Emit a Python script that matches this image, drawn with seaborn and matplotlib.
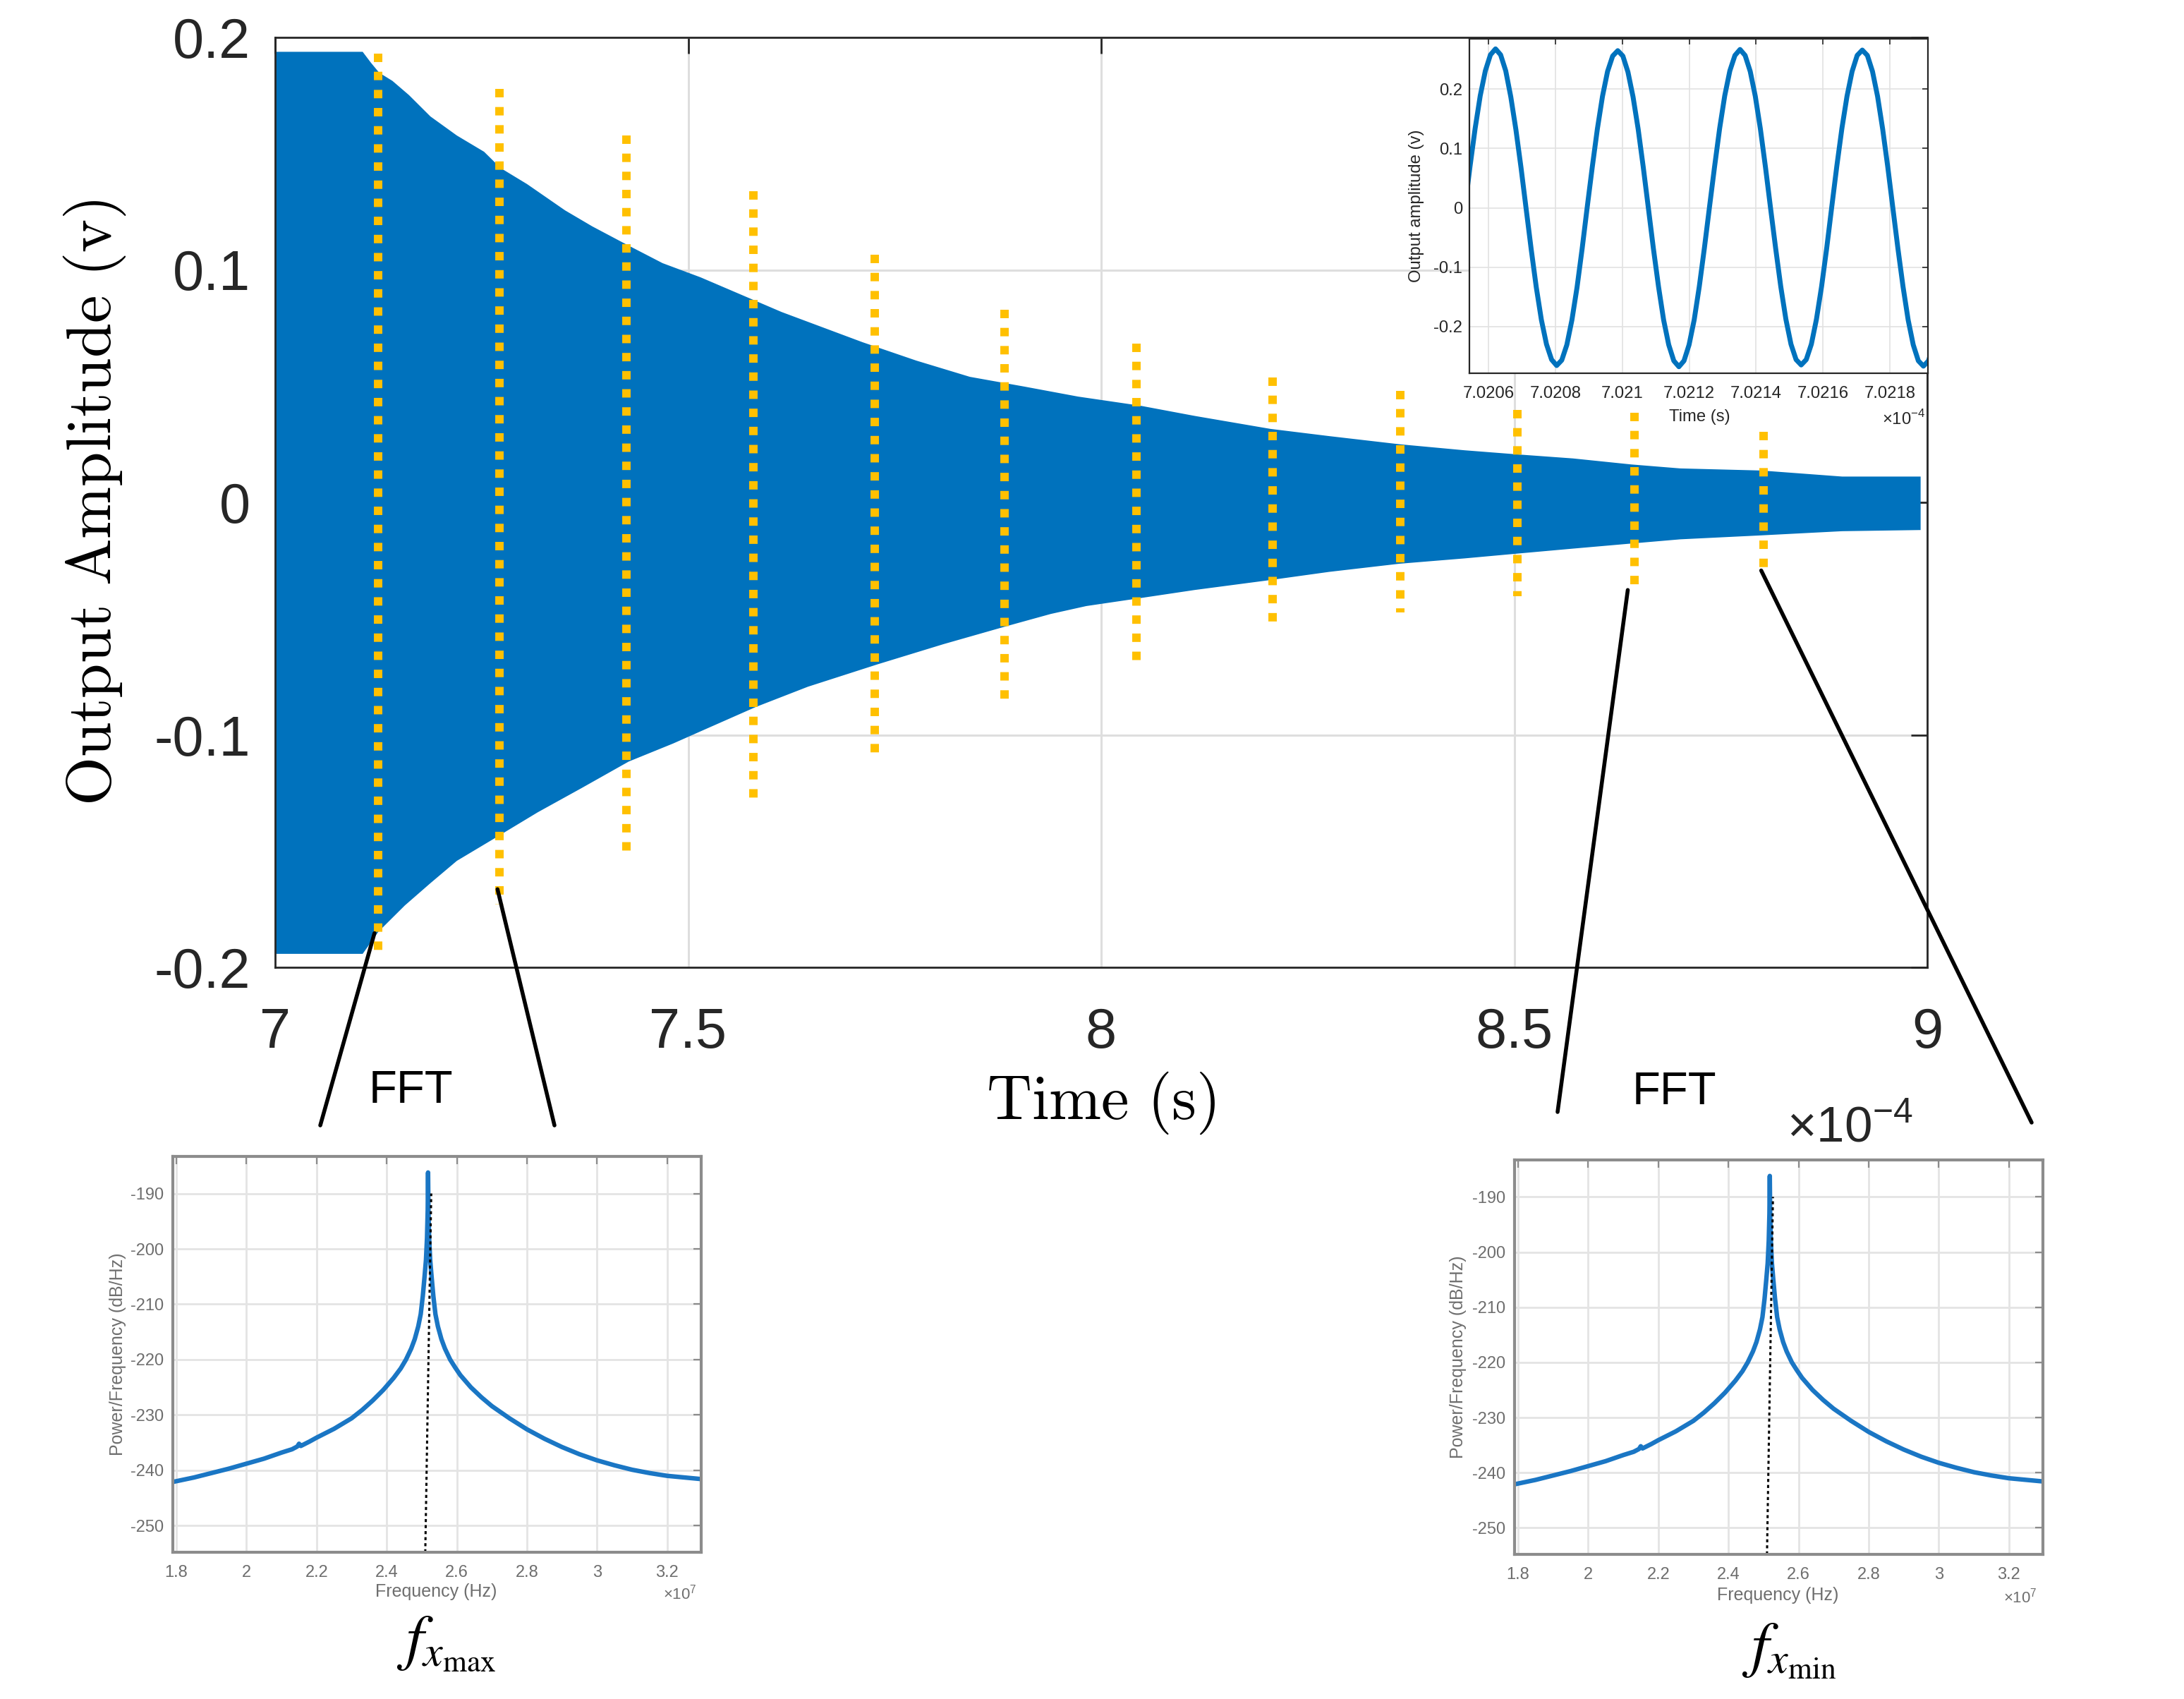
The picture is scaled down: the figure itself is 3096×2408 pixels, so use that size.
import numpy as np
import matplotlib
matplotlib.use("Agg")
import matplotlib.pyplot as plt
from matplotlib.patches import ConnectionPatch
import seaborn as sns

# ---------------- data ----------------
# main decay record: upper / lower envelope of the dense oscillation
env_t = [7.000, 7.106, 7.116, 7.126, 7.142, 7.162, 7.188, 7.220, 7.253, 7.273, 7.305, 7.351,
         7.384, 7.426, 7.469, 7.515, 7.567, 7.613, 7.665, 7.711, 7.776, 7.841, 7.907, 7.972,
         8.047, 8.113, 8.205, 8.276, 8.361, 8.440, 8.505, 8.571, 8.642, 8.701, 8.799, 8.897, 8.992]
env_upper = [0.1938, 0.1938, 0.1891, 0.1848, 0.1813, 0.1752, 0.1660, 0.1578, 0.1508, 0.1438,
             0.1369, 0.1256, 0.1187, 0.1108, 0.1029, 0.0968, 0.0889, 0.0819, 0.0750, 0.0689,
             0.0610, 0.0540, 0.0498, 0.0455, 0.0416, 0.0372, 0.0316, 0.0285, 0.0250, 0.0224,
             0.0206, 0.0189, 0.0163, 0.0146, 0.0137, 0.0111, 0.0111]
low_t = [7.000, 7.106, 7.125, 7.157, 7.188, 7.220, 7.269, 7.318, 7.371, 7.428, 7.482, 7.515,
         7.582, 7.645, 7.729, 7.809, 7.886, 7.939, 7.982, 8.047, 8.113, 8.205, 8.276, 8.361,
         8.440, 8.505, 8.571, 8.642, 8.701, 8.799, 8.897, 8.992]
env_lower = [-0.1942, -0.1942, -0.1847, -0.1734, -0.1638, -0.1542, -0.1438, -0.1333, -0.1229,
             -0.1115, -0.1037, -0.0985, -0.0880, -0.0793, -0.0697, -0.0610, -0.0532, -0.0480,
             -0.0446, -0.0412, -0.0377, -0.0334, -0.0299, -0.0264, -0.0241, -0.0220, -0.0199,
             -0.0177, -0.0159, -0.0142, -0.0124, -0.0119]

# yellow dotted sampling windows
win_t = [7.1248, 7.2718, 7.4254, 7.579, 7.726, 7.883, 8.0429, 8.2075, 8.3624, 8.5036, 8.6454, 8.8022]
win_top = [0.1931, 0.1778, 0.1578, 0.1339, 0.1064, 0.0829, 0.0682, 0.0537, 0.0480, 0.0398, 0.0386, 0.0302]
win_bottom = [-0.1952, -0.1730, -0.1507, -0.1304, -0.1103, -0.0866, -0.0691, -0.0520, -0.0473,
              -0.0403, -0.0360, -0.0281]

# zoom connectors (start on the main plot, in data units)
conn_t = [7.1203, 7.2692, 8.6375, 8.7990]
conn_v = [-0.1853, -0.1664, -0.0377, -0.0293]

main_xticks = [7, 7.5, 8, 8.5, 9]
main_xticklabels = ["7", "7.5", "8", "8.5", "9"]
main_yticks = [-0.2, -0.1, 0, 0.1, 0.2]
main_yticklabels = ["-0.2", "-0.1", "0", "0.1", "0.2"]

# inset: a few cycles of the signal (time in units of 1e-4 s)
inset_t = [7.0205287, 7.0205439, 7.0205592, 7.0205744, 7.0205897, 7.0206049, 7.0206202, 7.0206354,
           7.0206507, 7.0206659, 7.0206811, 7.0206964, 7.0207116, 7.0207269, 7.0207421, 7.0207574,
           7.0207726, 7.0207879, 7.0208031, 7.0208183, 7.0208336, 7.0208488, 7.0208641, 7.0208793,
           7.0208945, 7.0209097, 7.0209249, 7.0209402, 7.0209554, 7.0209707, 7.0209859, 7.0210012,
           7.0210164, 7.0210317, 7.0210469, 7.0210621, 7.0210774, 7.0210926, 7.0211079, 7.0211231,
           7.0211384, 7.0211536, 7.0211689, 7.0211841, 7.0211993, 7.0212146, 7.0212298, 7.0212451,
           7.0212603, 7.0212755, 7.0212908, 7.0213060, 7.0213213, 7.0213365, 7.0213518, 7.0213670,
           7.0213823, 7.0213975, 7.0214127, 7.0214280, 7.0214432, 7.0214585, 7.0214737, 7.0214890,
           7.0215042, 7.0215195, 7.0215347, 7.0215499, 7.0215652, 7.0215804, 7.0215957, 7.0216109,
           7.0216261, 7.0216413, 7.0216566, 7.0216718, 7.0216871, 7.0217023, 7.0217176, 7.0217328,
           7.0217481, 7.0217633, 7.0217785, 7.0217938, 7.0218090, 7.0218243, 7.0218395, 7.0218548,
           7.0218700, 7.0218853, 7.0219005, 7.0219157, 7.0219310]
inset_v = [0.001, 0.070, 0.134, 0.189, 0.231, 0.258, 0.268, 0.258, 0.231, 0.187, 0.132, 0.068,
           -0.001, -0.070, -0.134, -0.189, -0.230, -0.256, -0.266, -0.257, -0.231, -0.189, -0.134, -0.069,
           0.001, 0.069, 0.133, 0.188, 0.230, 0.256, 0.265, 0.256, 0.229, 0.187, 0.133, 0.069,
           0.000, -0.069, -0.133, -0.189, -0.231, -0.258, -0.268, -0.258, -0.231, -0.189, -0.133, -0.068,
           0.001, 0.069, 0.134, 0.189, 0.231, 0.257, 0.267, 0.257, 0.230, 0.188, 0.133, 0.068,
           -0.001, -0.069, -0.133, -0.188, -0.230, -0.256, -0.265, -0.256, -0.230, -0.188, -0.133, -0.069,
           0.001, 0.070, 0.134, 0.188, 0.230, 0.257, 0.266, 0.257, 0.230, 0.188, 0.133, 0.069,
           0.000, -0.069, -0.133, -0.189, -0.231, -0.258, -0.267, -0.258, -0.231]
inset_xticks = [7.0206, 7.0208, 7.0210, 7.0212, 7.0214, 7.0216, 7.0218]
inset_xticklabels = ["7.0206", "7.0208", "7.021", "7.0212", "7.0214", "7.0216", "7.0218"]
inset_yticks = [-0.2, -0.1, 0, 0.1, 0.2]
inset_yticklabels = ["-0.2", "-0.1", "0", "0.1", "0.2"]

# FFT spectra (frequency in units of 1e7 Hz)
fft_freq = [1.79, 1.85, 1.90, 1.95, 2.00, 2.05, 2.10, 2.13, 2.145, 2.15, 2.155, 2.18, 2.20, 2.25,
            2.30, 2.33, 2.36, 2.39, 2.42, 2.44, 2.455, 2.47, 2.48, 2.49, 2.497, 2.503, 2.508,
            2.512, 2.515, 2.517, 2.518, 2.519, 2.521, 2.524, 2.528, 2.533, 2.539, 2.546, 2.556,
            2.566, 2.581, 2.595, 2.61, 2.64, 2.67, 2.70, 2.75, 2.80, 2.85, 2.90, 2.95, 3.00,
            3.05, 3.10, 3.15, 3.20, 3.25, 3.30]
fft_db = [-242.1, -241.3, -240.5, -239.7, -238.8, -237.9, -236.8, -236.2, -235.7, -235.2, -235.6,
          -234.8, -234.1, -232.5, -230.6, -229.1, -227.4, -225.5, -223.3, -221.6, -220.0, -218.0,
          -216.3, -214.0, -211.8, -208.5, -205.0, -202.0, -198.0, -193.0, -186.2, -193.0, -198.0,
          -202.0, -205.0, -208.5, -211.8, -214.0, -216.3, -218.0, -220.0, -221.4, -222.8, -225.0,
          -226.8, -228.4, -230.6, -232.6, -234.3, -235.8, -237.1, -238.2, -239.1, -239.9, -240.5,
          -241.0, -241.3, -241.6]
fft_mark_f = [2.510, 2.527]
fft_mark_db = [-254.8, -190.0]
fft_xticks = [1.8, 2.0, 2.2, 2.4, 2.6, 2.8, 3.0, 3.2]
fft_xticklabels = ["1.8", "2", "2.2", "2.4", "2.6", "2.8", "3", "3.2"]
fft_yticks = [-250, -240, -230, -220, -210, -200, -190]
fft_yticklabels = ["-250", "-240", "-230", "-220", "-210", "-200", "-190"]
fft_names = [r"$f_{x_{\mathrm{max}}}$", r"$f_{x_{\mathrm{min}}}$"]

# ---------------- styling ----------------
sns.set_theme(style="white")
plt.rcParams["font.family"] = ["Liberation Sans", "DejaVu Sans"]
plt.rcParams["axes.unicode_minus"] = False

BLUE = "#0072BD"
YELLOW = "#FFC000"
DARK = "#262626"

W, H = 3096, 2408
fig = plt.figure(figsize=(W / 200, H / 200), dpi=200)
fig.patch.set_facecolor("white")


def rect(l, t, r, b):
    return [l / W, 1 - b / H, (r - l) / W, (b - t) / H]


def fxy(x, y):
    return x / W, 1 - y / H


# ---------------- main axes ----------------
ax = fig.add_axes(rect(390, 53, 2732, 1371))
poly_t = np.concatenate([env_t, low_t[::-1]])
poly_v = np.concatenate([env_upper, env_lower[::-1]])
ax.fill(poly_t, poly_v, color=BLUE, lw=0, zorder=2)
for t, b, tp in zip(win_t, win_bottom, win_top):
    ax.plot([t, t], [tp, b], color=YELLOW, lw=4.3, ls=(0, (1, 1.15)),
            dash_capstyle="butt", zorder=3)

ax.set_xlim(7, 9)
ax.set_ylim(-0.2, 0.2)
ax.set_xticks(main_xticks, main_xticklabels)
ax.set_yticks(main_yticks, main_yticklabels)
ax.tick_params(direction="in", length=8.3, width=1.0, top=True, right=True,
               labelsize=28.5, colors=DARK)
ax.tick_params(axis="x", pad=20)
ax.tick_params(axis="y", pad=12.6)
ax.grid(True, color="#dedede", lw=1.1)
ax.set_axisbelow(True)
for s in ax.spines.values():
    s.set_visible(True)
    s.set_color(DARK)
    s.set_linewidth(1.0)
ax.set_xlabel(r"$\mathrm{Time\ (s)}$", fontsize=32, math_fontfamily="cm", color="black")
ax.xaxis.label.set_va("center")
ax.xaxis.set_label_coords(0.5, (1371 - 1563) / 1318)
ax.set_ylabel(r"$\mathrm{Output\ Amplitude\ (v)}$", fontsize=32, math_fontfamily="cm",
              color="black")
ax.yaxis.label.set_va("center")
ax.yaxis.set_label_coords((134 - 390) / 2342, 0.5)

# ---------------- inset ----------------
axin = fig.add_axes(rect(2083, 55, 2733, 529))
axin.set_facecolor("white")
sns.lineplot(x=inset_t, y=inset_v, ax=axin, color=BLUE, lw=2.5)
axin.set_xlim(7.020542, 7.021914)
axin.set_ylim(-0.279, 0.285)
axin.set_xticks(inset_xticks, inset_xticklabels)
axin.set_yticks(inset_yticks, inset_yticklabels)
axin.tick_params(direction="in", length=3, width=0.6, top=True, right=True,
                 labelsize=8.6, colors=DARK)
axin.tick_params(axis="x", pad=6.3)
axin.tick_params(axis="y", pad=3.6)
axin.grid(True, color="#e2e2e2", lw=0.6)
for s in axin.spines.values():
    s.set_visible(True)
    s.set_color(DARK)
    s.set_linewidth(0.8)
axin.set_xlabel("Time (s)", fontsize=8.6, color=DARK)
axin.xaxis.label.set_va("center")
axin.xaxis.set_label_coords((2409 - 2083) / 650, (529 - 591) / 474)
axin.set_ylabel("Output amplitude (v)", fontsize=8.6, color=DARK)
axin.yaxis.label.set_va("center")
axin.yaxis.set_label_coords((2008 - 2083) / 650, 0.5)
fig.text(*fxy(2699, 594), "×10$^{\\mathregular{-4}}$", fontsize=8.6, color=DARK,
         ha="center", va="center")

# ---------------- FFT panels ----------------
fft_rects = [(245, 1639, 994, 2200), (2147, 1644, 2896, 2203)]
fft_xlab = [(618, 2256), (2520, 2261)]
fft_ylab_x = [167, 2067]
fft_mult = [(964, 2259), (2864, 2264)]
fft_title = [(582, 1546), (2373, 1548)]
fft_name_pos = [(633, 2330), (2536, 2340)]
GRAY = "#8c8c8c"
LGRAY = "#6e6e6e"
for i, (l, t, r, b) in enumerate(fft_rects):
    axf = fig.add_axes(rect(l, t, r, b))
    sns.lineplot(x=fft_freq, y=fft_db, ax=axf, color="#1a76c4", lw=2.3)
    axf.plot(fft_mark_f, fft_mark_db, color="black", lw=1.1, ls=(0, (1.4, 1.4)))
    axf.set_xlim(1.79, 3.297)
    axf.set_ylim(-254.8, -183.3)
    axf.set_xticks(fft_xticks, fft_xticklabels)
    axf.set_yticks(fft_yticks, fft_yticklabels)
    axf.tick_params(direction="in", length=4, width=0.8, top=True, right=True,
                    labelsize=8.5, color=GRAY, labelcolor=LGRAY)
    axf.tick_params(axis="x", pad=6.5)
    axf.tick_params(axis="y", pad=4.7)
    axf.grid(True, color="#e4e4e4", lw=1.0)
    for s in axf.spines.values():
        s.set_visible(True)
        s.set_color(GRAY)
        s.set_linewidth(1.5)
    w, h = r - l, b - t
    axf.set_xlabel("Frequency (Hz)", fontsize=9, color=LGRAY)
    axf.xaxis.label.set_va("center")
    axf.xaxis.set_label_coords((fft_xlab[i][0] - l) / w, (b - fft_xlab[i][1]) / h)
    axf.set_ylabel("Power/Frequency (dB/Hz)", fontsize=9, color=LGRAY)
    axf.yaxis.label.set_va("center")
    axf.yaxis.set_label_coords((fft_ylab_x[i] - l) / w, 0.5)
    fig.text(*fxy(*fft_mult[i]), "×10$^{\\mathregular{7}}$", fontsize=8, color=LGRAY,
             ha="center", va="center")
    fig.text(*fxy(*fft_title[i]), "FFT", fontsize=23.5, color="black",
             ha="center", va="center")
    fig.text(*fxy(*fft_name_pos[i]), fft_names[i], fontsize=32, math_fontfamily="stix",
             color="black", ha="center", va="center")

# stray exponent label of the main time axis
fig.text(*fxy(2622, 1618), "×10$^{\\mathregular{-4}}$", fontsize=25.6, color=DARK,
         ha="center", va="baseline")

# ---------------- connectors ----------------
conn_end = [(454, 1595), (786, 1595), (2208, 1576), (2880, 1591)]
for t, v, (px, py) in zip(conn_t, conn_v, conn_end):
    cp = ConnectionPatch(xyA=(t, v), coordsA=ax.transData, xyB=(px, H - py),
                         coordsB="figure pixels", color="black", lw=2.0, zorder=10)
    cp.set_clip_on(False)
    fig.add_artist(cp)

fig.savefig("out.png", dpi=200, facecolor="white")
